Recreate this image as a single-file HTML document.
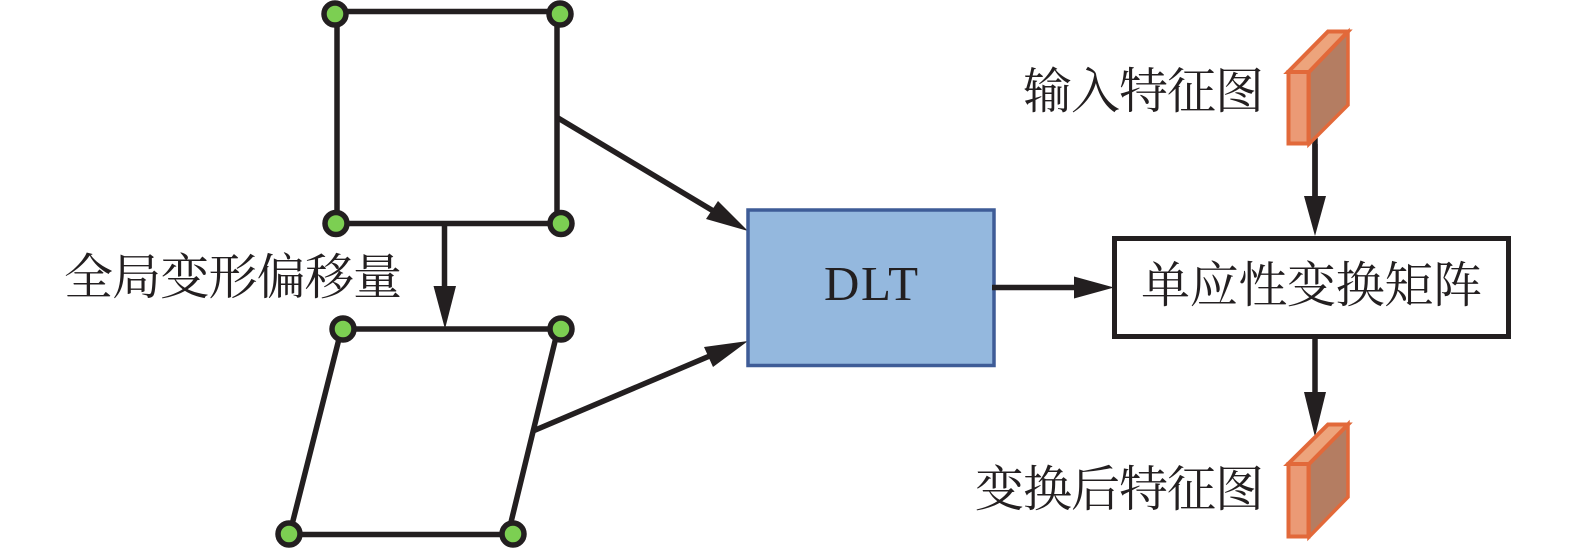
<!DOCTYPE html>
<html><head><meta charset="utf-8"><style>
html,body{margin:0;padding:0;background:#fff;width:1575px;height:548px;overflow:hidden}
svg{display:block}
.c{font-family:"Liberation Serif","Noto Serif CJK SC",serif;font-size:49px;fill:#231f20}
.l{stroke:#231f20;stroke-width:5.5;fill:none}
.d{fill:#7ccf52;stroke:#231f20;stroke-width:5.5}
.h{fill:#231f20}
.o{stroke:#e2693a;stroke-width:4;stroke-linejoin:miter}
</style></head><body>
<svg width="1575" height="548" viewBox="0 0 1575 548" xmlns="http://www.w3.org/2000/svg">
<rect x="0" y="0" width="1575" height="548" fill="#fff"/>
<rect class="l" x="337" y="11.5" width="220" height="212"/>
<polygon class="l" points="341.500,329 558,329 508,534.500 289.500,534.500"/>
<circle class="d" cx="335" cy="14" r="11"/><circle class="d" cx="560" cy="14" r="11"/>
<circle class="d" cx="336" cy="223.500" r="11"/><circle class="d" cx="561" cy="223.500" r="11"/>
<circle class="d" cx="343" cy="329" r="11"/><circle class="d" cx="561" cy="329" r="11"/>
<circle class="d" cx="289" cy="534" r="11"/><circle class="d" cx="513" cy="534" r="11"/>
<line class="l" x1="444.500" y1="223" x2="444.500" y2="290"/>
<polygon class="h" points="433.500,286 456,286 445,329"/>
<line class="l" x1="558" y1="118" x2="715" y2="212"/>
<polygon class="h" points="748,231 706,219 718,201"/>
<line class="l" x1="533" y1="431" x2="712" y2="355"/>
<polygon class="h" points="748,341 704,347 713,367"/>
<rect x="748" y="210" width="246" height="155.500" fill="#94b8de" stroke="#3e5c97" stroke-width="3.500"/>
<text x="824" y="300" font-family="Liberation Serif" font-size="49" fill="#231f20" textLength="94">DLT</text>
<line class="l" x1="992" y1="287.500" x2="1080" y2="287.500"/>
<polygon class="h" points="1114,287.500 1074,276.500 1074,298.500"/>
<rect x="1114.500" y="238.500" width="394" height="98" fill="#fff" stroke="#231f20" stroke-width="5"/>
<text class="c" x="1141" y="302" textLength="341">单应性变换矩阵</text>
<text class="c" x="64" y="294" textLength="338">全局变形偏移量</text>
<text class="c" x="1023" y="108" textLength="241">输入特征图</text>
<text class="c" x="975" y="506" textLength="289">变换后特征图</text>
<line class="l" x1="1315" y1="138" x2="1315" y2="200"/>
<g>
<polygon points="1309,72 1348,32 1348,105 1309,144" fill="#b47d62" stroke="#e2693a" stroke-width="3.500"/>
<polygon class="o" points="1288,72 1328,31.500 1348,31.500 1309,72" fill="#eda47c"/>
<rect class="o" x="1288.500" y="72" width="20" height="71.500" fill="#eb9a75"/>
</g>
<line class="l" x1="1315" y1="144" x2="1315" y2="200"/>
<polygon class="h" points="1304,196 1326,196 1315,236"/>
<line class="l" x1="1315" y1="339" x2="1315" y2="395"/>
<polygon class="h" points="1304,392 1326,392 1315,437"/>
<g>
<polygon points="1309,464 1348,424 1348,497 1309,537" fill="#b47d62" stroke="#e2693a" stroke-width="3.500"/>
<polygon class="o" points="1288,464 1328,424.500 1348,424.500 1309,464" fill="#eda47c"/>
<rect class="o" x="1288.500" y="464" width="20" height="72.500" fill="#eb9a75"/>
</g>
</svg>
</body></html>
